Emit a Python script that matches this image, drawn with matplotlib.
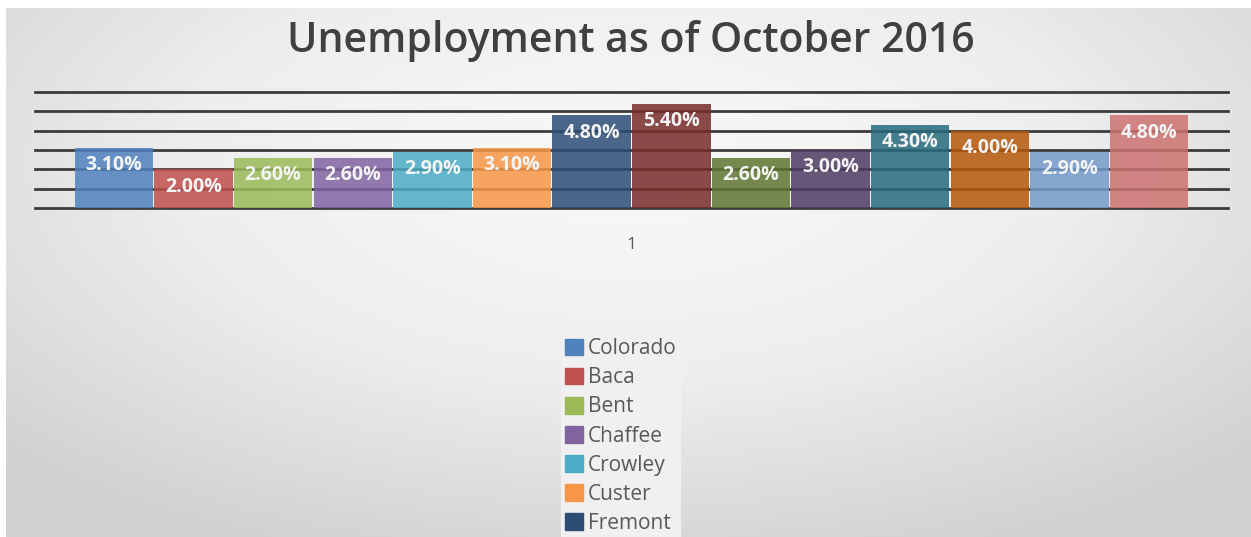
import numpy as np
import matplotlib
matplotlib.use('Agg')
import matplotlib.pyplot as plt

plt.rcParams['font.family'] = ['Open Sans', 'DejaVu Sans']

# data (only the first seven series names are visible in the legend)
counties = ['Colorado', 'Baca', 'Bent', 'Chaffee', 'Crowley', 'Custer', 'Fremont']
rates = [3.10, 2.00, 2.60, 2.60, 2.90, 3.10, 4.80, 5.40, 2.60, 3.00, 4.30, 4.00, 2.90, 4.80]
colors = ['#4F81BD', '#C0504D', '#9BBB59', '#8064A2', '#4BACC6', '#F79646', '#2C4D75',
          '#772C2A', '#5F7530', '#4D3B62', '#276A7C', '#B65708', '#729ACA', '#CD7371']
category = ['1']

fig = plt.figure(figsize=(12.51, 5.37), dpi=100)

# grey gradient background like the Excel chart area
bg = fig.add_axes([6 / 1251, 0, 1 - 6 / 1251, 1 - 8 / 537], zorder=-10)
yy, xx = np.mgrid[-0.6:1.4:300j, -1:1:700j]
r = np.sqrt((xx * 0.85) ** 2 + (yy * 0.75) ** 2)
cm = matplotlib.colors.LinearSegmentedColormap.from_list('g', ['#f9f9f9', '#eeeeee', '#d0d0d0'])
bg.imshow(r, cmap=cm, aspect='auto', extent=[0, 1, 0, 1], vmin=0, vmax=1.2)
bg.axis('off')

fig.text(0.504, 1 - 52 / 537, 'Unemployment as of October 2016', ha='center', va='baseline',
         fontsize=29.5, fontweight='semibold', color='#404040')

ax = fig.add_axes([0.028, 0.6127, 0.9536, 0.216])
ax.set_facecolor('none')
n = len(rates)
w = 0.975
x = (np.arange(n) - (n - 1) / 2) * w
half = n / 2 * w * 1193 / 1115
ax.set_xlim(-half, half)
ax.set_ylim(0, 6)
ax.set_yticks(np.arange(0, 7, 1))
ax.yaxis.grid(True, color='#3c3c3c', lw=2)
for gl in ax.get_ygridlines():
    gl.set_clip_on(False)
ax.set_axisbelow(True)
ax.tick_params(axis='y', left=False, labelleft=False)
for s in ax.spines.values():
    s.set_visible(False)

bars = ax.bar(x, rates, width=w * 0.985, color=colors, alpha=0.85)
for xi, v in zip(x, rates):
    ax.annotate('%.2f%%' % v, (xi, v), xytext=(0, -12.5), textcoords='offset points',
                ha='center', va='center', color='#f4f4f4', fontsize=14, fontweight='bold')

ax.set_xticks([0])
ax.set_xticklabels(category, color='#595959', fontsize=12.5)
ax.tick_params(axis='x', length=0, pad=21)

handles = [plt.Rectangle((0, 0), 1, 1, color=c) for c in colors[:len(counties)]]
leg = fig.legend(handles, counties, loc='upper left', bbox_to_anchor=(0.4484, 0.378),
                 frameon=True, facecolor='#f0f0f0', edgecolor='none', fancybox=False,
                 fontsize=15, handlelength=0.85, handleheight=0.85, handletextpad=0.25,
                 labelspacing=0.39, borderpad=0.2, borderaxespad=0, framealpha=1)
for t in leg.get_texts():
    t.set_color('#595959')

fig.savefig('out.png', dpi=100)
